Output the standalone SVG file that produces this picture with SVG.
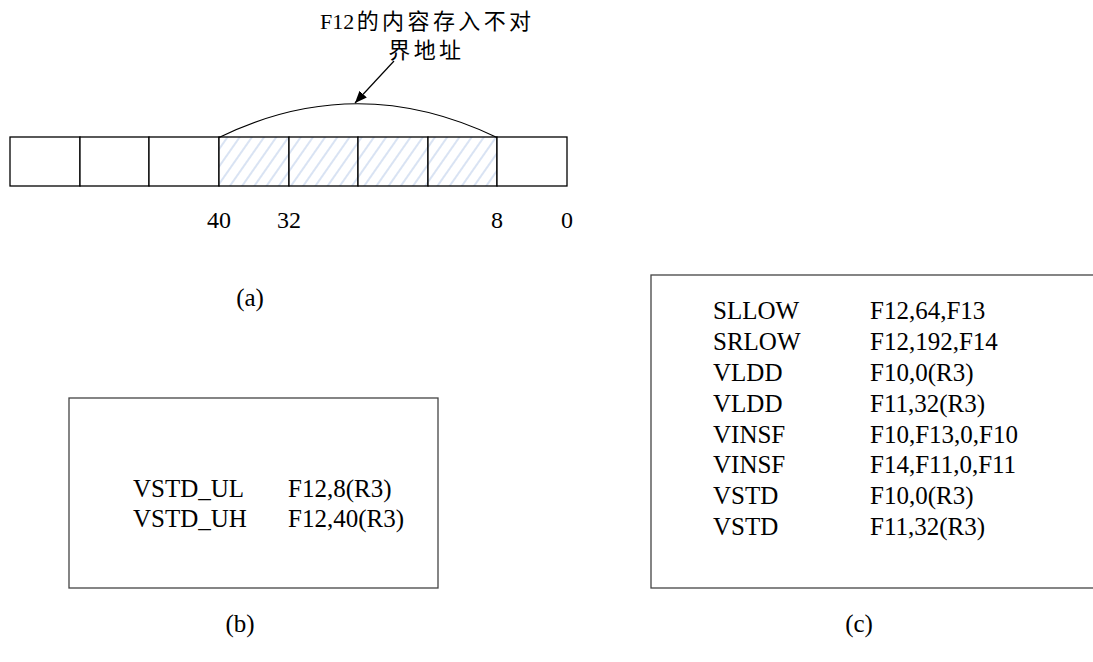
<svg xmlns="http://www.w3.org/2000/svg" width="1093" height="662" viewBox="0 0 1093 662">
<style>
.t{font-family:"Liberation Serif","Times New Roman",serif;font-size:25px;fill:#000}
.lbl{font-family:"Liberation Serif","Times New Roman",serif;font-size:24px;fill:#000}
.cap{font-family:"Liberation Serif","Times New Roman",serif;font-size:25px;fill:#000;text-anchor:middle}
.cjk{font-family:"Liberation Serif","Noto Sans CJK SC",serif;font-size:22px;fill:#000}
.sp{letter-spacing:3.4px}
.cell{fill:#fff;stroke:#000;stroke-width:1.3}
.hcell{fill:url(#hatch);stroke:#000;stroke-width:1.3}
.box{fill:#fff;stroke:#444;stroke-width:1.3}
.line{fill:none;stroke:#000;stroke-width:1.2}
</style>
<defs>
<pattern id="hatch" patternUnits="userSpaceOnUse" width="10" height="10" patternTransform="rotate(35)">
<rect width="10" height="10" fill="#fff"/>
<line x1="5" y1="0" x2="5" y2="10" stroke="#b3c8e8" stroke-width="1"/>
</pattern>
<marker id="arr" viewBox="0 0 12 10" refX="12" refY="5" markerWidth="12" markerHeight="10" markerUnits="userSpaceOnUse" orient="auto">
<path d="M0,0 L12,5 L0,10 z" fill="#000"/>
</marker>
</defs>
<rect width="1093" height="662" fill="#fff"/>

<g id="memory-row">
<rect class="cell" x="10" y="137" width="70" height="49"/>
<rect class="cell" x="80" y="137" width="69" height="49"/>
<rect class="cell" x="149" y="137" width="70" height="49"/>
<rect class="hcell" x="219" y="137" width="70" height="49"/>
<rect class="hcell" x="289" y="137" width="69" height="49"/>
<rect class="hcell" x="358" y="137" width="70" height="49"/>
<rect class="hcell" x="428" y="137" width="69" height="49"/>
<rect class="cell" x="497" y="137" width="70" height="49"/>
</g>

<g id="offsets">
<text class="lbl" x="219" y="228" text-anchor="middle">40</text>
<text class="lbl" x="289" y="228" text-anchor="middle">32</text>
<text class="lbl" x="497" y="228" text-anchor="middle">8</text>
<text class="lbl" x="567" y="228" text-anchor="middle">0</text>
</g>

<g id="annotation">
<text class="cjk" x="320" y="29">F12<tspan class="sp" x="356.7">的内容存入不对</tspan></text>
<text class="cjk sp" x="388.3" y="58">界地址</text>
</g>

<g id="connectors">
<path class="line" d="M219,137.5 Q357,70 497,137.5"/>
<line class="line" x1="394" y1="61" x2="355" y2="103" marker-end="url(#arr)"/>
</g>

<g id="caption-a">
<text class="cap" x="250" y="306">(a)</text>
</g>

<g id="box-b">
<rect class="box" x="69" y="398" width="369" height="190"/>
<text class="t" x="133" y="497">VSTD_UL</text>
<text class="t" x="288" y="497">F12,8(R3)</text>
<text class="t" x="133" y="527">VSTD_UH</text>
<text class="t" x="288" y="527">F12,40(R3)</text>
</g>

<g id="box-c">
<rect class="box" x="651" y="275" width="460" height="313"/>
<text class="t" x="713" y="319.3">SLLOW</text>
<text class="t" x="870" y="319.3">F12,64,F13</text>
<text class="t" x="713" y="350.1">SRLOW</text>
<text class="t" x="870" y="350.1">F12,192,F14</text>
<text class="t" x="713" y="380.9">VLDD</text>
<text class="t" x="870" y="380.9">F10,0(R3)</text>
<text class="t" x="713" y="411.7">VLDD</text>
<text class="t" x="870" y="411.7">F11,32(R3)</text>
<text class="t" x="713" y="442.5">VINSF</text>
<text class="t" x="870" y="442.5">F10,F13,0,F10</text>
<text class="t" x="713" y="473.3">VINSF</text>
<text class="t" x="870" y="473.3">F14,F11,0,F11</text>
<text class="t" x="713" y="504.1">VSTD</text>
<text class="t" x="870" y="504.1">F10,0(R3)</text>
<text class="t" x="713" y="534.9">VSTD</text>
<text class="t" x="870" y="534.9">F11,32(R3)</text>
</g>

<g id="caption-b">
<text class="cap" x="240" y="632">(b)</text>
</g>
<g id="caption-c">
<text class="cap" x="859" y="632">(c)</text>
</g>
</svg>
